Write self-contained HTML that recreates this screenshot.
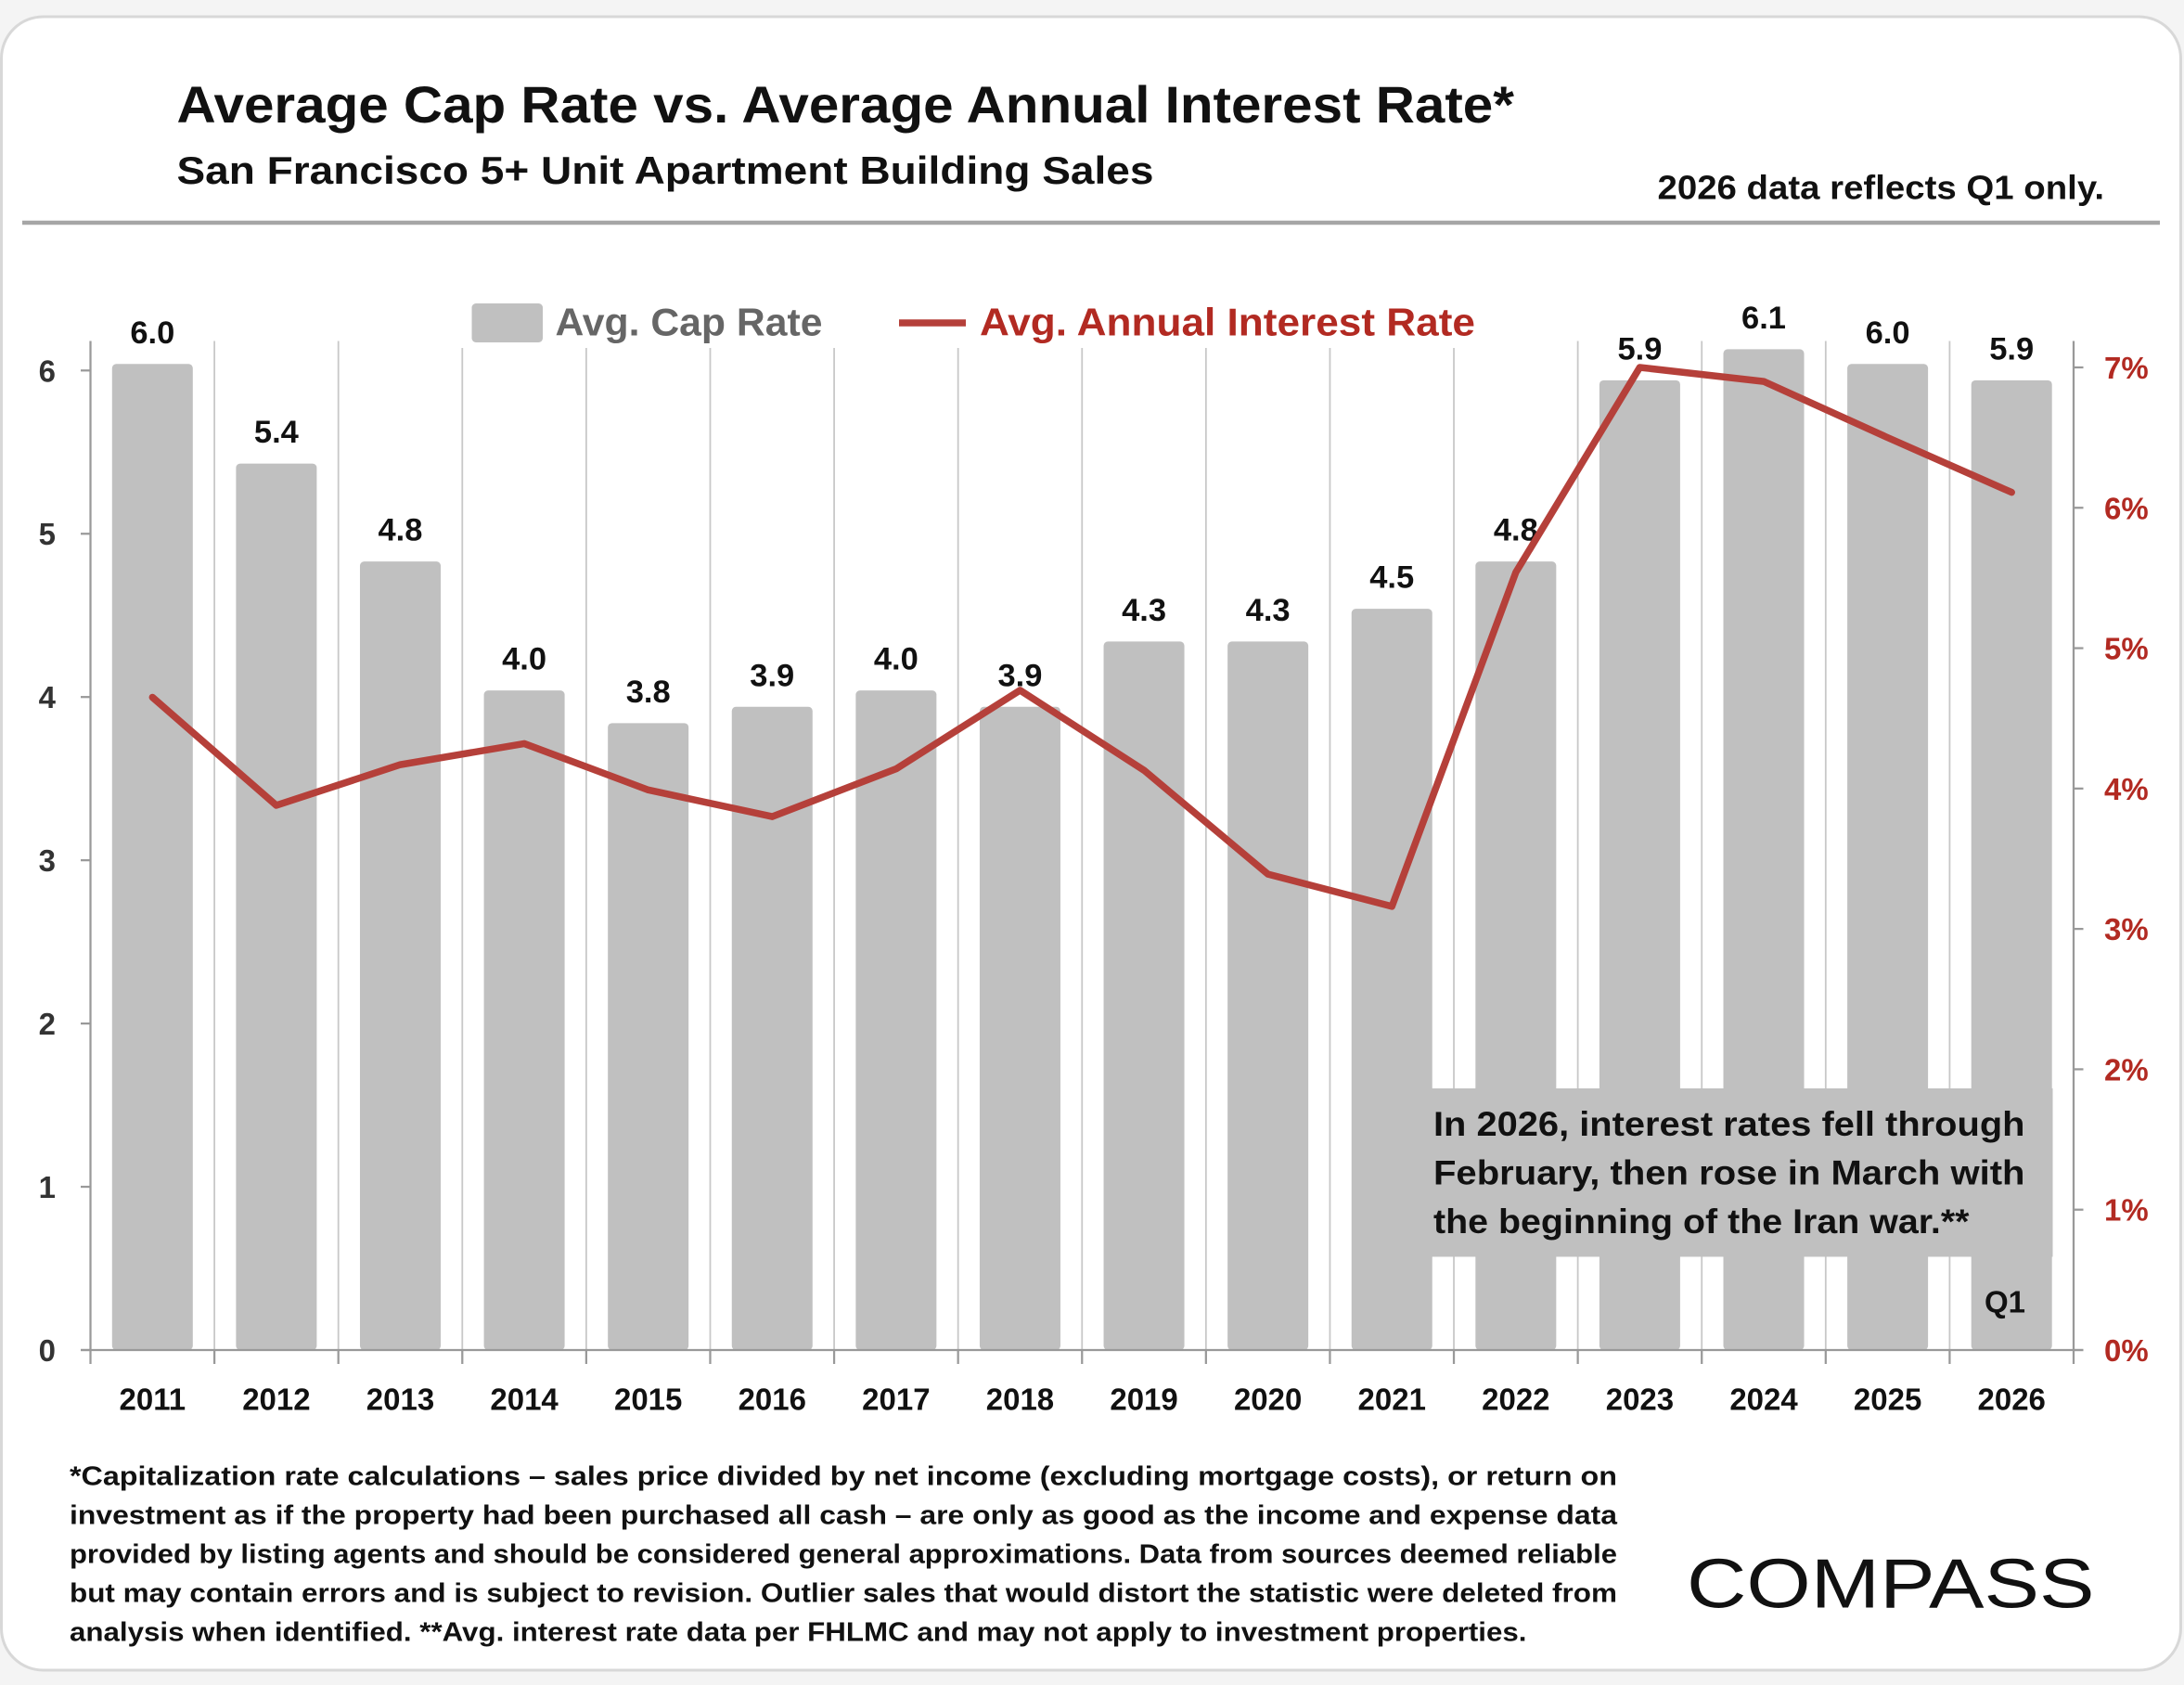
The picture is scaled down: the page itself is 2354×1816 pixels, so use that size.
<!DOCTYPE html>
<html><head><meta charset="utf-8"><style>
html,body{margin:0;padding:0;background:#f4f4f4;}
svg{display:block;font-family:"Liberation Sans",sans-serif;}
</style></head><body>
<svg id="chart" width="2354" height="1816" viewBox="0 0 1569.33 1210.67" xmlns="http://www.w3.org/2000/svg">
<rect x="1" y="12" width="1566" height="1188" rx="30" fill="#fff" stroke="#d8d8d8" stroke-width="2"/>
<text x="127" y="88" font-size="37" font-weight="bold" fill="#111" textLength="961" lengthAdjust="spacingAndGlyphs">Average Cap Rate vs. Average Annual Interest Rate*</text>
<text x="127" y="132" font-size="28" font-weight="bold" fill="#111" textLength="702" lengthAdjust="spacingAndGlyphs">San Francisco 5+ Unit Apartment Building Sales</text>
<text x="1191" y="143" font-size="24" font-weight="bold" fill="#111" textLength="321" lengthAdjust="spacingAndGlyphs">2026 data reflects Q1 only.</text>
<line x1="16" y1="160" x2="1552" y2="160" stroke="#a6a6a6" stroke-width="3"/>
<g id="plot"></g>
<rect x="330" y="208" width="740" height="42" fill="#fff"/>
<rect x="339" y="218" width="51" height="28" rx="3" fill="#c0c0c0"/>
<text x="399" y="241" font-size="28" font-weight="bold" fill="#666" textLength="192" lengthAdjust="spacingAndGlyphs">Avg. Cap Rate</text>
<line x1="646" y1="232" x2="694" y2="232" stroke="#b5403a" stroke-width="5"/>
<text x="704" y="241" font-size="28" font-weight="bold" fill="#b22a22" textLength="356" lengthAdjust="spacingAndGlyphs">Avg. Annual Interest Rate</text>
<g id="lineLayer"></g>
<g id="annot">
<rect x="1021" y="782" width="454" height="121" fill="#c0c0c0"/>
<text x="1030" y="816" font-size="25" font-weight="bold" fill="#111" textLength="425" lengthAdjust="spacingAndGlyphs">In 2026, interest rates fell through</text>
<text x="1030" y="851" font-size="25" font-weight="bold" fill="#111" textLength="425" lengthAdjust="spacingAndGlyphs">February, then rose in March with</text>
<text x="1030" y="886" font-size="25" font-weight="bold" fill="#111" textLength="385" lengthAdjust="spacingAndGlyphs">the beginning of the Iran war.**</text>
</g>
<text x="1426" y="943" font-size="22" font-weight="bold" fill="#111">Q1</text>
<g font-size="19" font-weight="bold" fill="#111">
<text x="50" y="1067" textLength="1112" lengthAdjust="spacingAndGlyphs">*Capitalization rate calculations – sales price divided by net income (excluding mortgage costs), or return on</text>
<text x="50" y="1095" textLength="1112" lengthAdjust="spacingAndGlyphs">investment as if the property had been purchased all cash – are only as good as the income and expense data</text>
<text x="50" y="1123" textLength="1112" lengthAdjust="spacingAndGlyphs">provided by listing agents and should be considered general approximations. Data from sources deemed reliable</text>
<text x="50" y="1151" textLength="1112" lengthAdjust="spacingAndGlyphs">but may contain errors and is subject to revision. Outlier sales that would distort the statistic were deleted from</text>
<text x="50" y="1179" textLength="1047" lengthAdjust="spacingAndGlyphs">analysis when identified. **Avg. interest rate data per FHLMC and may not apply to investment properties.</text>
</g>
<text x="1212" y="1155" font-size="50" fill="#111" textLength="293" lengthAdjust="spacingAndGlyphs">COMPASS</text>
</svg>
<script>
const years = ["2011","2012","2013","2014","2015","2016","2017","2018","2019","2020","2021","2022","2023","2024","2025","2026"];
const capRate = [6.04,5.43,4.83,4.04,3.84,3.94,4.04,3.94,4.34,4.34,4.54,4.83,5.94,6.13,6.04,5.94];
const capRateLabels = ["6.0","5.4","4.8","4.0","3.8","3.9","4.0","3.9","4.3","4.3","4.5","4.8","5.9","6.1","6.0","5.9"];
const interestRate = [4.65,3.88,4.17,4.32,3.99,3.80,4.14,4.70,4.13,3.39,3.16,5.54,7.0,6.90,6.50,6.11];
const leftTicks = [0,1,2,3,4,5,6];
const rightTicks = [0,1,2,3,4,5,6,7];
const rightTickLabels = ["0%","1%","2%","3%","4%","5%","6%","7%"];

const NS="http://www.w3.org/2000/svg";
const plot=document.getElementById('plot');
const lineLayer=document.getElementById('lineLayer');
const X0=65, X1=1490, Y0=970;
const step=(X1-X0)/years.length;
const xc=i=>X0+step*(i+0.5);
const yL=v=>Y0-v*117.3;
const yR=v=>Y0-v*100.86;
function mk(tag,attrs,parent){const e=document.createElementNS(NS,tag);for(const k in attrs)e.setAttribute(k,attrs[k]);(parent||plot).appendChild(e);return e;}

for(let i=1;i<years.length;i++){
  const g=mk('line',{x1:X0+step*i,y1:245,x2:X0+step*i,y2:Y0,stroke:'#c8c8c8','stroke-width':1.2});
  
  
}
years.forEach((y,i)=>{
  const b=mk('rect',{x:xc(i)-29,y:yL(capRate[i]),width:58,height:Y0-yL(capRate[i]),rx:3,fill:'#c0c0c0'});
  
  
  const t=mk('text',{x:xc(i),y:yL(capRate[i])-15,'text-anchor':'middle','font-size':23,'font-weight':'bold',fill:'#111'});
  t.textContent=capRateLabels[i];
  
  
  const xl=mk('text',{x:xc(i),y:1013,'text-anchor':'middle','font-size':22,'font-weight':'bold',fill:'#111'});
  xl.textContent=y;
  
  
});
const al=mk('line',{x1:X0,y1:245,x2:X0,y2:Y0,stroke:'#999','stroke-width':1.5});


const ar=mk('line',{x1:X1,y1:245,x2:X1,y2:Y0,stroke:'#999','stroke-width':1.5});


const ax=mk('line',{x1:58,y1:Y0,x2:1497,y2:Y0,stroke:'#999','stroke-width':1.5});


for(let i=0;i<=years.length;i++){
  const tk=mk('line',{x1:X0+step*i,y1:Y0,x2:X0+step*i,y2:Y0+10,stroke:'#999','stroke-width':1.5});
  
  
}
leftTicks.forEach(v=>{
  const tk=mk('line',{x1:58,y1:yL(v),x2:X0,y2:yL(v),stroke:'#999','stroke-width':1.5});
  
  
  const t=mk('text',{x:40,y:yL(v)+8,'text-anchor':'end','font-size':22,'font-weight':'bold',fill:'#333'});
  t.textContent=v;
  
  
});
rightTicks.forEach((v,i)=>{
  const tk=mk('line',{x1:X1,y1:yR(v),x2:X1+7,y2:yR(v),stroke:'#999','stroke-width':1.5});
  
  
  const t=mk('text',{x:1512,y:yR(v)+8,'font-size':22,'font-weight':'bold',fill:'#b22a22'});
  t.textContent=rightTickLabels[i];
  
  
});
const pts=interestRate.map((v,i)=>xc(i)+','+yR(v)).join(' ');
const pl=mk('polyline',{points:pts,fill:'none',stroke:'#b5403a','stroke-width':5,'stroke-linejoin':'round','stroke-linecap':'round'},lineLayer);


</script>
</body></html>
